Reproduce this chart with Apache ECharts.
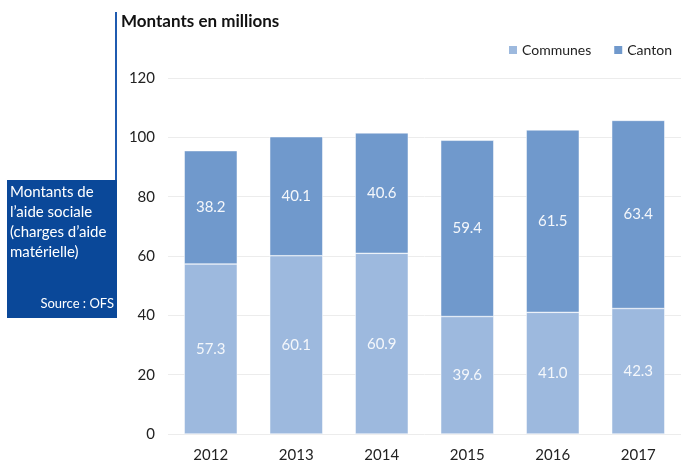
<!DOCTYPE html>
<html>
<head>
<meta charset="utf-8">
<script src="https://cdn.jsdelivr.net/npm/echarts@6/dist/echarts.min.js"></script>
<style>
  html, body { margin: 0; padding: 0; background: #fff; }
  #chart { width: 681px; height: 463px; }
</style>
</head>
<body>
<div id="chart"></div>
<script>
const years = ["2012", "2013", "2014", "2015", "2016", "2017"];
const communes = [57.3, 60.1, 60.9, 39.6, 41.0, 42.3];
const canton = [38.2, 40.1, 40.6, 59.4, 61.5, 63.4];

const font = "Lato, 'Open Sans', sans-serif";
const chart = echarts.init(document.getElementById("chart"));

const valueLabel = {
    show: true,
    position: "inside",
    color: "#f4f7fb",
    fontSize: 15,
    fontFamily: font,
    formatter: (p) => p.value.toFixed(1),
};

chart.setOption({
    animation: false,
    textStyle: { fontFamily: font },
    title: {
        text: "Montants en millions",
        left: 121,
        top: 13,
        padding: 0,
        textStyle: { fontSize: 17, fontWeight: "bold", color: "#111", fontFamily: font },
    },
    legend: {
        right: 4,
        top: 38,
        itemWidth: 10,
        itemHeight: 10,
        itemGap: 21,
        icon: "rect",
        textStyle: { fontSize: 14, color: "#222", fontFamily: font, padding: [0, 0, 0, -1] },
        data: ["Communes", "Canton"],
    },
    grid: { left: 168, right: 0, top: 78, bottom: 28 },
    xAxis: {
        type: "category",
        data: years,
        axisLine: { show: false },
        axisTick: { show: false },
        axisLabel: { fontSize: 15, color: "#222", margin: 14 },
    },
    yAxis: {
        type: "value",
        min: 0,
        max: 120,
        interval: 20,
        axisLine: { show: false },
        axisTick: { show: false },
        axisLabel: { fontSize: 15, color: "#222", margin: 13 },
        splitLine: { lineStyle: { color: "#ececec", width: 1 } },
    },
    series: [
        {
            name: "Communes",
            type: "bar",
            stack: "total",
            barCategoryGap: "38%",
            data: communes,
            itemStyle: { color: "#9db9de", borderColor: "#ffffff", borderWidth: 0.5 },
            label: valueLabel,
        },
        {
            name: "Canton",
            type: "bar",
            stack: "total",
            data: canton,
            itemStyle: { color: "#7099cc", borderColor: "#ffffff", borderWidth: 0.5 },
            label: valueLabel,
        },
    ],
    graphic: [
        {
            type: "rect",
            shape: { x: 115, y: 12, width: 2, height: 170 },
            style: { fill: "#1f5bb0" },
        },
        {
            type: "rect",
            shape: { x: 7, y: 180, width: 110, height: 138 },
            style: { fill: "#0a4899" },
        },
        {
            type: "text",
            left: 10,
            top: 182,
            style: {
                text: "Montants de\nl’aide sociale\n(charges d’aide\nmatérielle)",
                fill: "#ffffff",
                font: "15px " + font,
                lineHeight: 20,
            },
        },
        {
            type: "text",
            right: 681 - 114,
            top: 297,
            style: {
                text: "Source : OFS",
                fill: "#ffffff",
                font: "13px " + font,
                textAlign: "right",
            },
        },
    ],
});
</script>
</body>
</html>
